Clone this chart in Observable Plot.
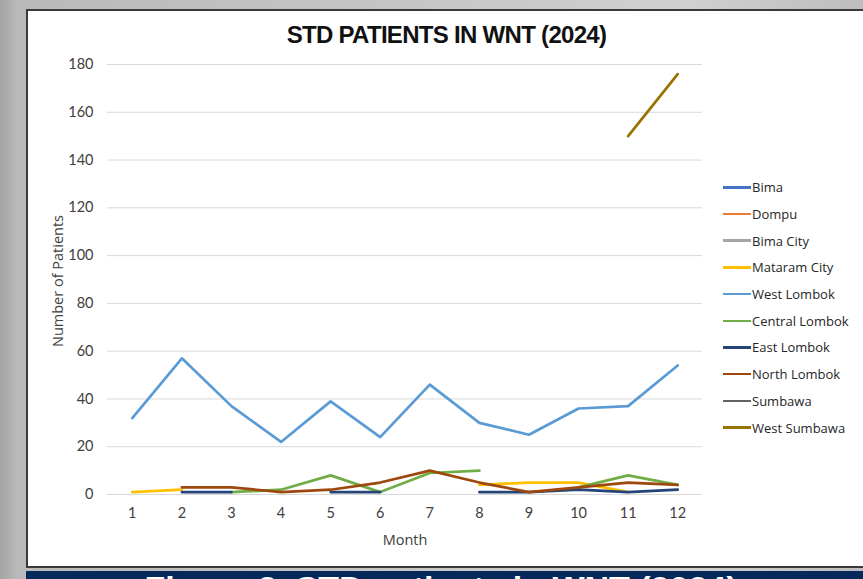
<!DOCTYPE html>
<html><head><meta charset="utf-8">
<script src="https://cdn.jsdelivr.net/npm/d3@7"></script>
<script src="https://cdn.jsdelivr.net/npm/@observablehq/plot@0.6"></script>
<style>
body{margin:0;}
#wrap{position:relative;width:863px;height:579px;overflow:hidden;background:linear-gradient(90deg,#a4a4a4,#b9b9b9 2%,#c4c4c4 40%,#d0d0d0 80%,#bdbdbd);}
#panel{position:absolute;left:26px;top:9px;width:840px;height:555px;background:#fff;border:2px solid #3a3a3a;}
#chart{position:absolute;left:0;top:0;}
#title{position:absolute;left:0;width:893px;top:21px;text-align:center;font-family:"Liberation Sans Narrow",sans-serif;font-weight:bold;font-size:24px;color:#111;letter-spacing:-0.7px;}
#legend{position:absolute;left:723px;top:174px;font-family:"Open Sans",sans-serif;font-size:13px;color:#262626;}
.row{height:26.7px;display:flex;align-items:center;}
.sw{width:28px;height:2.5px;margin-right:1px;}
#band{position:absolute;left:26px;top:571px;width:840px;height:12px;background:#06295c;overflow:hidden;}
#band span{position:absolute;left:0;width:830px;top:-2px;text-align:center;font-family:"Liberation Sans",sans-serif;font-weight:bold;font-size:34px;line-height:39px;color:#fff;white-space:nowrap;}
.lab{position:absolute;font-family:"Open Sans",sans-serif;font-size:14.5px;color:#404040;white-space:nowrap;}
#ylab{left:57px;top:281px;transform:translate(-50%,-50%) rotate(-90deg);}
#xlab{left:405px;top:539px;transform:translate(-50%,-50%);}
</style></head>
<body>
<div id="wrap">
  <div id="panel"></div>
  <div id="chart"></div>
  <div id="title">STD PATIENTS IN WNT (2024)</div>
  <div class="lab" id="ylab">Number of Patients</div>
  <div class="lab" id="xlab">Month</div>
  <div id="legend"></div>
  <div id="band"><span>Figure 3. STD patients in WNT (2024)</span></div>
</div>
<script>
const months = [1,2,3,4,5,6,7,8,9,10,11,12];
const seriesNames = ["Bima","Dompu","Bima City","Mataram City","West Lombok","Central Lombok","East Lombok","North Lombok","Sumbawa","West Sumbawa"];
const seriesColors = ["#4472C4","#ED7D31","#A5A5A5","#FFC000","#5B9BD5","#70AD47","#264478","#9E480E","#636363","#997300"];
const bima          = [null,null,null,null,null,null,null,null,null,null,null,null];
const dompu         = [null,null,null,null,null,null,null,null,null,null,null,null];
const bimaCity      = [null,null,null,null,null,null,null,null,null,null,null,null];
const mataramCity   = [1,2,null,null,null,null,null,4,5,5,1,null];
const westLombok    = [32,57,37,22,39,24,46,30,25,36,37,54];
const centralLombok = [null,null,1,2,8,1,9,10,null,3,8,4];
const eastLombok    = [null,1,1,null,1,1,null,1,1,2,1,2];
const northLombok   = [null,3,3,1,2,5,10,5,1,3,5,4];
const sumbawa       = [null,null,null,null,null,null,null,null,null,null,null,null];
const westSumbawa   = [null,null,null,null,null,null,null,null,null,null,150,176];
const yTicks = [0,20,40,60,80,100,120,140,160,180];

const seriesValues = [bima,dompu,bimaCity,mataramCity,westLombok,centralLombok,eastLombok,northLombok,sumbawa,westSumbawa];
const rows = [];
seriesNames.forEach((name,i)=>{
  months.forEach((m,j)=>rows.push({series:name, month:m, value:seriesValues[i][j]}));
});

const chart = Plot.plot({
  width: 720, height: 560,
  marginLeft: 107, marginRight: 18, marginTop: 64, marginBottom: 66,
  style: {background:"transparent", fontFamily:"Lato, sans-serif", fontSize:"14.5px", color:"#404040", overflow:"visible"},
  x: {type:"linear", domain:[0.5,12.5]},
  y: {domain:[0,180]},
  color: {domain: seriesNames, range: seriesColors},
  marks: [
    Plot.ruleY(yTicks, {stroke:"#d9d9d9", strokeWidth:1}),
    Plot.axisY({ticks:yTicks, tickSize:0, tickPadding:14, label:null, fontSize:14.5}),
    Plot.axisX({ticks:months, tickSize:0, tickPadding:13, tickFormat:d=>String(d), label:null, fontSize:14.5}),
    Plot.line(rows, {x:"month", y:"value", z:"series", stroke:"series", strokeWidth:2.7, strokeLinejoin:"round", strokeLinecap:"round"})
  ]
});
document.getElementById("chart").appendChild(chart);

const leg = document.getElementById("legend");
seriesNames.forEach((n,i)=>{
  const r = document.createElement("div"); r.className="row";
  const s = document.createElement("div"); s.className="sw"; s.style.background=seriesColors[i];
  const t = document.createElement("span"); t.textContent=n;
  r.appendChild(s); r.appendChild(t); leg.appendChild(r);
});
</script>
</body></html>
